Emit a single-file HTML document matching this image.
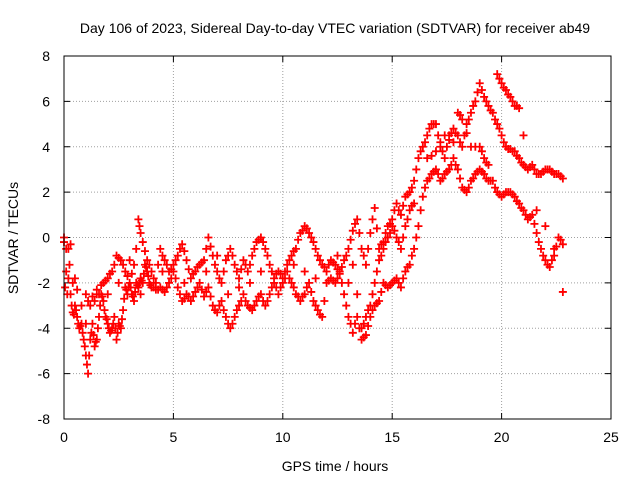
<!DOCTYPE html>
<html><head><meta charset="utf-8"><style>
body{margin:0;background:#fff}
svg{display:block;font-family:"Liberation Sans",sans-serif}
</style></head><body>
<svg id="chart" width="640" height="480" viewBox="0 0 640 480">
<rect width="640" height="480" fill="#fff"/>
<text x="335" y="33" font-size="14" text-anchor="middle">Day 106 of 2023, Sidereal Day-to-day VTEC variation (SDTVAR) for receiver ab49</text>
<text x="335" y="471" font-size="14" text-anchor="middle">GPS time / hours</text>
<text x="18" y="238" font-size="14" text-anchor="middle" transform="rotate(-90 18 238)">SDTVAR / TECUs</text>
<g id="grid"></g>
<g id="ticks"></g>
<g id="points"></g>
<rect x="64" y="56" width="547" height="363" fill="none" stroke="#000" stroke-width="1"/>
</svg>
<script>
const xTicks=[0,5,10,15,20,25];
const yTicks=[-8,-6,-4,-2,0,2,4,6,8];
const track1=[[0,-0.2],[0.1,-0.5],[0.2,-1.8],[0.3,-2.5],[0.4,-3.3],[0.5,-3.0],[0.6,-3.5],[0.7,-4.0],[0.8,-3.8],[0.9,-4.5],[1.0,-5.2],[1.1,-6.0],[1.2,-4.5],[1.3,-3.8],[1.4,-4.8],[1.5,-4.5],[1.6,-3.5],[1.7,-2.5],[1.8,-2.8],[1.9,-3.5],[2.0,-3.8],[2.1,-4.2],[2.2,-4.0],[2.3,-3.5],[2.4,-4.5],[2.5,-3.8],[2.6,-4.0],[2.7,-3.2],[2.8,-2.2],[2.9,-2.5],[3.0,-2.0],[3.1,-2.5],[3.2,-2.8],[3.3,-2.0],[3.4,-2.2],[3.5,-1.8],[3.6,-2.0],[3.7,-1.2],[3.8,-1.5],[3.9,-2.0],[4.0,-2.2],[4.2,-2.3],[4.4,-2.2],[4.6,-2.4],[4.8,-2.0],[5.0,-1.5],[5.2,-2.2],[5.4,-2.8],[5.6,-2.5],[5.8,-2.8],[6.0,-2.4],[6.2,-2.0],[6.4,-2.6],[6.6,-2.2],[6.8,-3.0],[7.0,-3.3],[7.2,-2.8],[7.4,-3.5],[7.6,-4.0],[7.8,-3.5],[8.0,-3.0],[8.2,-2.5],[8.4,-3.0],[8.6,-3.2],[8.8,-2.8],[9.0,-2.5],[9.2,-3.0],[9.4,-2.5],[9.6,-2.0],[9.8,-2.5],[10.0,-2.0],[10.2,-1.5],[10.4,-2.0],[10.6,-2.5],[10.8,-2.8],[11.0,-2.5],[11.2,-2.0],[11.4,-2.8],[11.6,-3.2],[11.8,-3.5],[12.0,-2.0],[12.2,-1.8],[12.4,-2.0],[12.6,-1.5],[12.8,-2.5],[13.0,-3.5],[13.2,-4.2],[13.4,-3.5],[13.6,-4.5],[13.8,-4.3],[14.0,-3.5],[14.2,-3.0],[14.4,-2.8],[14.6,-2.0],[14.8,-2.2],[15.0,-2.0],[15.2,-1.8],[15.4,-2.2],[15.6,-1.5],[15.8,-1.2],[16.0,-0.5],[16.2,0.5],[16.4,1.8],[16.6,2.5],[16.8,2.8],[17.0,3.0],[17.2,2.5],[17.4,2.8],[17.6,3.0],[17.8,3.5],[18.0,3.0],[18.2,2.2],[18.4,2.0],[18.6,2.5],[18.8,2.8],[19.0,3.0],[19.2,2.8],[19.4,2.5],[19.6,2.5],[19.8,2.0],[20.0,1.8],[20.2,2.0],[20.4,2.0],[20.6,1.8],[20.8,1.5],[21.0,1.2],[21.2,0.8],[21.4,1.0],[21.6,0.2],[21.8,-0.5],[22.0,-1.0],[22.2,-1.3],[22.4,-0.8],[22.6,0.0],[22.8,-0.3]];
const track2=[[0,0.0],[0.1,-1.5],[0.2,-0.5],[0.3,-0.3],[0.4,-2.0],[0.6,-2.3],[0.8,-3.0],[1.0,-2.5],[1.2,-3.0],[1.4,-2.8],[1.6,-2.5],[1.8,-2.0],[2.0,-1.8],[2.2,-1.5],[2.4,-0.8],[2.6,-1.0],[2.8,-1.5],[3.0,-2.0],[3.2,-1.2],[3.4,0.8],[3.5,0.2],[3.6,-0.2],[3.8,-1.0],[4.0,-1.5],[4.2,-2.0],[4.4,-0.5],[4.6,-1.0],[4.8,-1.5],[5.0,-1.2],[5.2,-0.8],[5.4,-0.3],[5.6,-1.0],[5.8,-1.8],[6.0,-1.5],[6.2,-1.2],[6.4,-1.0],[6.6,0.0],[6.8,-0.8],[7.0,-1.5],[7.2,-2.0],[7.4,-1.0],[7.6,-0.5],[7.8,-1.2],[8.0,-1.8],[8.2,-1.0],[8.4,-1.5],[8.6,-0.8],[8.8,-0.2],[9.0,0.0],[9.2,-0.5],[9.4,-1.2],[9.6,-1.8],[9.8,-1.5],[10.0,-1.8],[10.2,-1.2],[10.4,-0.8],[10.6,-0.5],[10.8,0.2],[11.0,0.5],[11.2,0.2],[11.4,-0.2],[11.6,-0.8],[11.8,-1.2],[12.0,-1.5],[12.2,-1.0],[12.4,-1.2],[12.6,-1.6],[12.8,-1.0],[13.0,-0.5],[13.2,0.3],[13.4,0.8],[13.6,-0.5],[13.8,-1.2],[14.0,0.2],[14.2,1.3],[14.4,-0.5],[14.6,-0.2],[14.8,0.5],[15.0,0.8],[15.2,1.5],[15.4,1.0],[15.6,1.8],[15.8,2.0],[16.0,2.5],[16.2,3.5],[16.4,4.0],[16.6,4.5],[16.8,5.0],[17.0,5.0],[17.2,4.0],[17.4,3.5],[17.6,4.5],[17.8,4.8],[18.0,4.5],[18.2,4.0],[18.4,5.0],[18.6,5.5],[18.8,6.0],[19.0,6.8],[19.2,6.2],[19.4,5.8],[19.6,5.5],[19.8,5.0],[20.0,4.5],[20.2,4.0],[20.4,3.9],[20.6,3.8],[20.8,3.5],[21.0,3.2],[21.2,3.0],[21.4,3.2],[21.6,2.8],[21.8,2.8],[22.0,3.0],[22.2,3.0],[22.4,2.8],[22.6,2.8],[22.8,2.6]];
const track3=[[0.5,-1.8],[1.0,-3.8],[1.5,-2.5],[2.0,-2.5],[2.5,-2.0],[3.0,-1.0],[3.5,-2.5],[4.5,-1.5],[5.5,-2.0],[6.5,-1.5],[7.0,-0.8],[7.5,-2.5],[8.0,-2.2],[8.5,-2.0],[9.0,-1.5],[9.5,-2.2],[10.5,-1.2],[11.0,-1.5],[11.5,-1.8],[12.5,-0.8],[13.0,-2.0],[13.2,-1.2],[13.4,-2.5],[13.6,-4.0],[13.8,-3.5],[14.0,-3.0],[14.2,-2.0],[14.4,-1.0],[14.6,-0.5],[14.8,0.0],[15.0,0.5],[15.2,0.0],[15.4,-0.5],[15.6,0.5],[15.8,1.2],[16.0,1.5],[16.6,3.5],[17.0,3.8],[17.4,4.5],[17.8,4.2],[18.0,5.5],[18.2,5.2],[18.6,4.0],[19.0,4.0],[19.2,3.5],[19.4,3.2],[19.8,7.2],[20.0,6.8],[20.2,6.5],[20.4,6.2],[20.6,5.8],[20.8,5.7],[21.0,4.5],[21.6,1.2],[22.0,0.5],[22.4,-0.5],[22.8,-2.4]];
const track4=[[4.1,-2.2],[4.3,-2.3],[4.5,-2.3],[4.7,-2.2],[4.9,-1.8],[5.1,-1.8],[5.3,-2.5],[5.5,-2.7],[5.7,-2.6],[5.9,-2.6],[6.1,-2.2],[6.3,-2.3],[6.5,-2.4],[6.7,-2.6],[6.9,-3.2],[7.1,-3.0],[7.3,-3.2],[7.5,-3.8],[7.7,-3.8],[7.9,-3.2],[8.1,-2.8],[8.3,-2.8],[8.5,-3.1],[8.7,-3.0],[8.9,-2.6],[9.1,-2.8],[9.3,-2.8],[9.5,-2.2],[9.7,-2.2],[9.9,-2.2],[10.1,-1.8],[10.3,-1.8],[10.5,-2.2],[10.7,-2.6],[10.9,-2.6],[11.1,-2.2],[11.3,-2.4],[11.5,-3.0],[11.7,-3.4],[11.9,-2.8],[12.1,-1.9],[12.3,-1.9],[12.5,-1.8],[12.7,-2.0],[12.9,-3.0],[13.1,-3.8],[13.3,-3.8],[13.5,-4.0],[13.7,-4.4],[13.9,-3.9],[14.1,-3.2],[14.3,-2.9],[14.5,-2.4],[14.7,-2.1],[14.9,-2.1],[15.1,-1.9],[15.3,-2.0],[15.5,-1.8],[15.7,-1.3],[15.9,-0.8],[16.1,0.0],[16.3,1.2],[16.5,2.2],[16.7,2.6],[16.9,2.9],[17.1,2.8],[17.3,2.6],[17.5,2.9],[17.7,3.2],[17.9,3.2],[18.1,2.6],[18.3,2.1],[18.5,2.2],[18.7,2.6],[18.9,2.9],[19.1,2.9],[19.3,2.6],[19.5,2.5],[19.7,2.2],[19.9,1.9],[20.1,1.9],[20.3,2.0],[20.5,1.9],[20.7,1.6],[20.9,1.3],[21.1,1.0],[21.3,0.9],[21.5,0.6],[21.7,-0.2],[21.9,-0.8],[22.1,-1.2],[22.3,-1.0],[22.5,-0.4],[22.7,-0.1]];
const track5=[[4.1,-1.8],[4.3,-1.2],[4.5,-0.8],[4.7,-1.2],[4.9,-1.4],[5.1,-1.0],[5.3,-0.5],[5.5,-0.6],[5.7,-1.4],[5.9,-1.6],[6.1,-1.3],[6.3,-1.1],[6.5,-0.5],[6.7,-0.4],[6.9,-1.2],[7.1,-1.8],[7.3,-1.5],[7.5,-0.8],[7.7,-0.8],[7.9,-1.5],[8.1,-1.4],[8.3,-1.2],[8.5,-1.2],[8.7,-0.5],[8.9,-0.1],[9.1,-0.2],[9.3,-0.8],[9.5,-1.5],[9.7,-1.6],[9.9,-1.6],[10.1,-1.5],[10.3,-1.0],[10.5,-0.6],[10.7,-0.1],[10.9,0.3],[11.1,0.4],[11.3,0.0],[11.5,-0.5],[11.7,-1.0],[11.9,-1.3],[12.1,-1.2],[12.3,-1.1],[12.5,-1.4],[12.7,-1.3],[12.9,-0.8],[13.1,-0.1],[13.3,0.6],[13.5,0.2],[13.7,-0.8],[13.9,-0.5],[14.1,0.8],[14.3,0.4],[14.5,-0.3],[14.7,0.2],[14.9,0.6],[15.1,1.2],[15.3,1.2],[15.5,1.4],[15.7,1.9],[15.9,2.2],[16.1,3.0],[16.3,3.8],[16.5,4.2],[16.7,4.8],[16.9,5.0],[17.1,4.5],[17.3,3.8],[17.5,4.0],[17.7,4.6],[17.9,4.6],[18.1,4.2],[18.3,4.5],[18.5,5.2],[18.7,5.8],[18.9,6.4],[19.1,6.5],[19.3,6.0],[19.5,5.6],[19.7,5.2],[19.9,4.8],[20.1,4.2],[20.3,3.9],[20.5,3.8],[20.7,3.6],[20.9,3.3],[21.1,3.1],[21.3,3.1],[21.5,3.0],[21.7,2.8],[21.9,2.9],[22.1,3.0],[22.3,2.9],[22.5,2.8],[22.7,2.7]];
const track6=[[0.05,-2.2],[0.15,-2.5],[0.25,-1.2],[0.35,-3.0],[0.45,-3.4],[0.55,-3.2],[0.65,-3.8],[0.75,-3.9],[0.85,-4.2],[0.95,-4.8],[1.05,-5.6],[1.15,-5.2],[1.25,-4.2],[1.35,-4.3],[1.45,-4.6],[1.55,-4.0],[1.65,-3.0],[1.75,-2.6],[1.85,-3.2],[1.95,-3.6],[2.05,-4.0],[2.15,-4.1],[2.25,-3.8],[2.35,-4.0],[2.45,-4.2],[2.55,-3.9],[2.65,-3.6],[2.75,-2.7],[2.85,-2.3],[2.95,-2.2],[3.05,-2.2],[3.15,-2.6],[3.25,-2.4],[3.35,-2.1],[3.45,-2.0],[3.55,-1.9],[3.65,-1.6],[3.75,-1.3],[3.85,-1.7],[3.95,-2.1],[1.1,-2.8],[1.3,-2.6],[1.5,-2.3],[1.7,-2.1],[1.9,-1.9],[2.1,-1.6],[2.3,-1.2],[2.5,-0.9],[2.7,-1.2],[2.9,-1.7],[3.1,-1.6],[3.3,-0.5],[3.45,0.5],[3.7,-0.6],[3.9,-1.2],[13.7,-3.8],[13.9,-3.2],[14.1,-2.5],[14.3,-1.5],[14.5,-0.8],[14.7,-0.2],[14.9,0.2],[15.1,0.3],[15.3,-0.2],[15.5,0.0],[15.7,0.8],[15.9,1.4],[19.9,7.0],[20.1,6.6],[20.3,6.3],[20.5,6.0],[20.7,5.8],[16.8,3.6],[17.2,4.2],[17.6,4.3],[18.1,5.4],[18.4,4.6],[18.8,4.0],[19.1,3.8],[19.3,3.3]];
const X0=64,X1=611,Y0=419,Y1=56,XMIN=0,XMAX=25,YMIN=-8,YMAX=8;
function sx(v){return X0+(v-XMIN)/(XMAX-XMIN)*(X1-X0);}
function sy(v){return Y0-(v-YMIN)/(YMAX-YMIN)*(Y0-Y1);}
const NS="http://www.w3.org/2000/svg";
const grid=document.getElementById('grid'),ticks=document.getElementById('ticks'),pts=document.getElementById('points');
function ln(p,x1,y1,x2,y2,st,dash){const l=document.createElementNS(NS,'line');l.setAttribute('x1',x1);l.setAttribute('y1',y1);l.setAttribute('x2',x2);l.setAttribute('y2',y2);l.setAttribute('stroke',st);if(dash)l.setAttribute('stroke-dasharray',dash);p.appendChild(l);return l;}
function tx(p,x,y,s,a){const t=document.createElementNS(NS,'text');t.setAttribute('x',x);t.setAttribute('y',y);t.setAttribute('font-size','14');t.setAttribute('text-anchor',a);t.textContent=s;p.appendChild(t);return t;}
xTicks.forEach(v=>{const x=sx(v);
 if(v>XMIN&&v<XMAX){const g=ln(grid,x,Y1,x,Y0,'#a0a0a0','1,2');
 
 }
 ln(ticks,x,Y0,x,Y0-6,'#000');ln(ticks,x,Y1,x,Y1+6,'#000');
 const t=tx(ticks,x,442,String(v),'middle');
 
 });
yTicks.forEach(v=>{const y=sy(v);
 if(v>YMIN&&v<YMAX){const g=ln(grid,X0,y,X1,y,'#a0a0a0','1,2');
 
 }
 ln(ticks,X0,y,X0+6,y,'#000');ln(ticks,X1,y,X1-6,y,'#000');
 const t=tx(ticks,50,y+5,String(v),'end');
 
 });
let d='';
[track1,track2,track3,track4,track5,track6].forEach(tr=>tr.forEach(([t,v])=>{const x=sx(t),y=sy(v);d+=`M${x-4},${y}h8M${x},${y-4}v8`;}));
const path=document.createElementNS(NS,'path');
path.setAttribute('d',d);path.setAttribute('stroke','#f00');path.setAttribute('stroke-width','1.8');path.setAttribute('fill','none');


pts.appendChild(path);
</script>
</body></html>
